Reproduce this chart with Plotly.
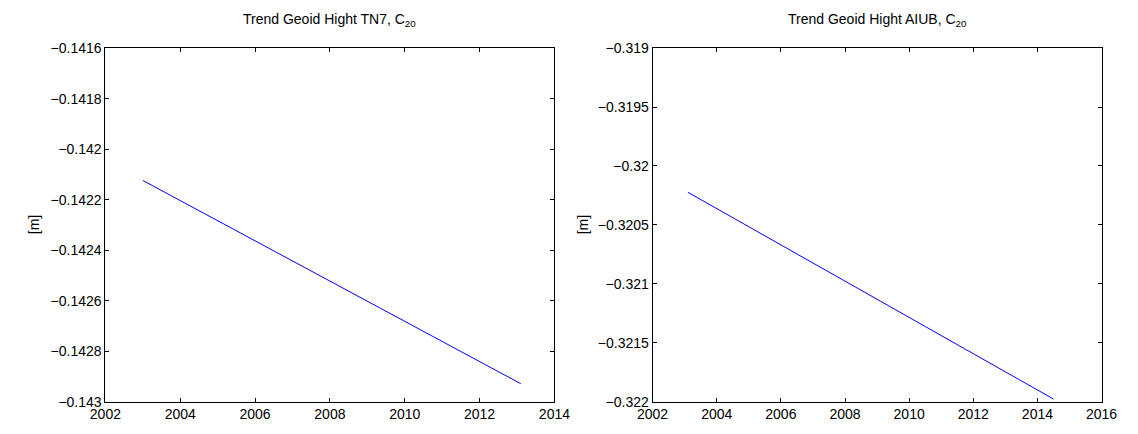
import plotly.graph_objects as go

# Data
tn7_years = [2003.0, 2013.1]
tn7_values = [-0.142124, -0.142929]
aiub_years = [2003.1, 2014.5]
aiub_values = [-0.320223, -0.321978]

left_xticks = [2002, 2004, 2006, 2008, 2010, 2012, 2014]
right_xticks = [2002, 2004, 2006, 2008, 2010, 2012, 2014, 2016]
left_yticks = [-0.1416, -0.1418, -0.142, -0.1422, -0.1424, -0.1426, -0.1428, -0.143]
right_yticks = [-0.319, -0.3195, -0.32, -0.3205, -0.321, -0.3215, -0.322]

W, H = 1138, 434
FONT = "Liberation Sans, Arial, Helvetica, sans-serif"

def lbl(v):
    s = repr(v)
    return s.replace("-", "\u2212")

fig = go.Figure()
fig.add_trace(go.Scatter(x=tn7_years, y=tn7_values, mode="lines",
                         line=dict(color="#0000ff", width=1), xaxis="x", yaxis="y",
                         showlegend=False))
fig.add_trace(go.Scatter(x=aiub_years, y=aiub_values, mode="lines",
                         line=dict(color="#0000ff", width=1), xaxis="x2", yaxis="y2",
                         showlegend=False))

ybot = (H - 408.7) / H
ytop = (H - 41.7) / H
dl = [92 / W, 554 / W]
dr = [655 / W, 1117 / W]

common = dict(showgrid=False, zeroline=False, showline=True, linecolor="black",
              linewidth=1, mirror="ticks", ticks="inside", ticklen=4,
              tickcolor="black", tickfont=dict(family=FONT, size=14, color="black"))

fig.update_layout(
    width=W, height=H,
    margin=dict(l=0, r=0, t=0, b=0),
    paper_bgcolor="white", plot_bgcolor="white",
    font=dict(family=FONT, size=14, color="black"),
    xaxis=dict(domain=dl, range=[2002, 2014], tickvals=left_xticks,
               ticktext=[str(t) for t in left_xticks], anchor="y", **common),
    yaxis=dict(domain=[ybot, ytop], range=[-0.143, -0.1416], tickvals=left_yticks,
               ticktext=[lbl(t) for t in left_yticks], anchor="x", **common),
    xaxis2=dict(domain=dr, range=[2002, 2016], tickvals=right_xticks,
                ticktext=[str(t) for t in right_xticks], anchor="y2", **common),
    yaxis2=dict(domain=[ybot, ytop], range=[-0.322, -0.319], tickvals=right_yticks,
                ticktext=[lbl(t) for t in right_yticks], anchor="x2", **common),
    annotations=[
        dict(text="Trend Geoid Hight TN7, C<sub>20</sub>", x=(92 + 554) / 2 / W, y=1 - 24 / H,
             xref="paper", yref="paper", xanchor="center", yanchor="bottom",
             showarrow=False, font=dict(family=FONT, size=14, color="black")),
        dict(text="Trend Geoid Hight AIUB, C<sub>20</sub>", x=(655 + 1117) / 2 / W, y=1 - 24 / H,
             xref="paper", yref="paper", xanchor="center", yanchor="bottom",
             showarrow=False, font=dict(family=FONT, size=14, color="black")),
        dict(text="[m]", x=18 / W, y=(H - 225) / H, xref="paper", yref="paper",
             xanchor="center", yanchor="middle", textangle=-90, showarrow=False,
             font=dict(family=FONT, size=14, color="black")),
        dict(text="[m]", x=583 / W, y=(H - 225) / H, xref="paper", yref="paper",
             xanchor="center", yanchor="middle", textangle=-90, showarrow=False,
             font=dict(family=FONT, size=14, color="black")),
    ],
)

fig.write_html("out.html")
